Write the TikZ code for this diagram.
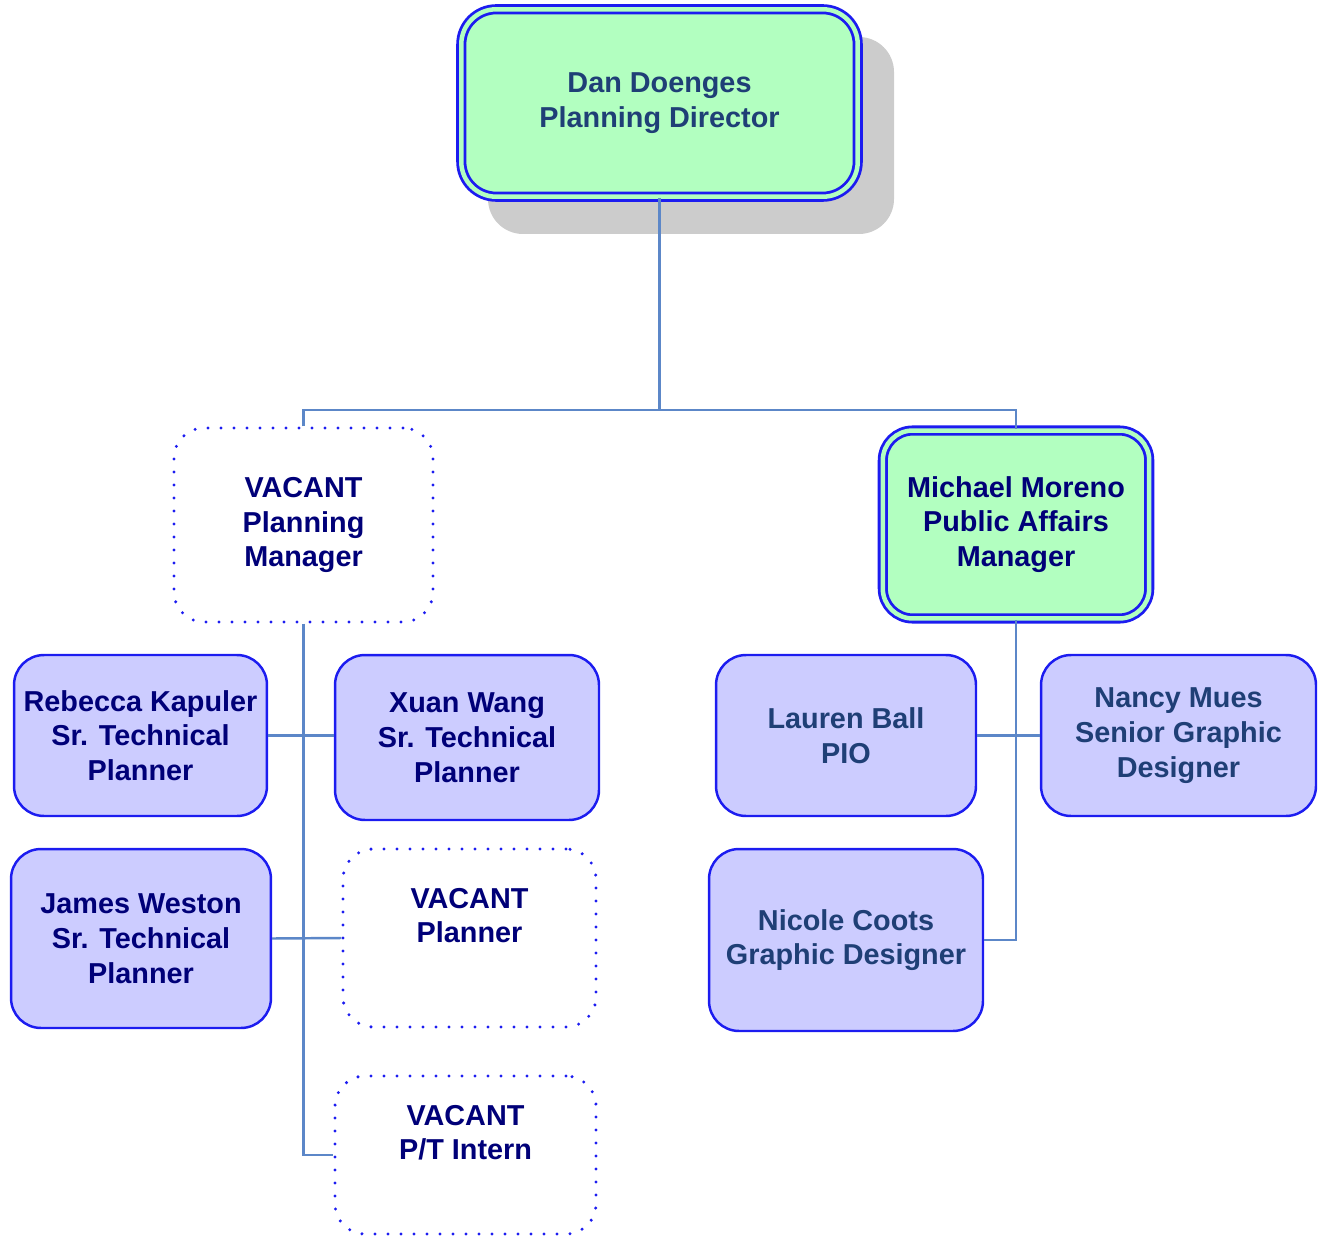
\documentclass[tikz,border=0pt]{standalone}
\usepackage{fontspec}
\setmainfont{Liberation Sans}
\usepackage{tikz}
\definecolor{boxblue}{RGB}{28,28,240}
\definecolor{linkblue}{RGB}{92,135,200}
\definecolor{staffgreen}{RGB}{178,255,192}
\definecolor{stafflav}{RGB}{204,204,255}
\definecolor{navytext}{RGB}{0,0,120}
\definecolor{slatetext}{RGB}{31,63,118}
\tikzset{
  person/.style={draw=boxblue, line width=1.4pt, rounded corners=0.6cm, fill=stafflav,
    align=center, inner sep=0pt, text=navytext,
    font=\bfseries\fontsize{16.4}{19.8}\selectfont},
  lead/.style={person, fill=staffgreen, draw=boxblue, double=staffgreen,
    double distance=0.09cm, line width=1.6pt, rounded corners=0.7cm},
  vacant/.style={person, fill=none, draw=boxblue, line width=1.9pt, line cap=round,
    dash pattern=on 0pt off 7.4pt},
  link/.style={draw=linkblue, line width=1.4pt}
}
\begin{document}
\begin{tikzpicture}[x=0.02cm, y=-0.02cm]
\useasboundingbox (0,0) rectangle (1324,1236);
\fill [black!20, rounded corners=0.7cm] (488,37) rectangle (894,234);
\node [lead, minimum width=7.93cm, minimum height=3.75cm, text=slatetext] (dir) at (659.5,103)
  {Dan Doenges\\Planning Director};
\node [vacant, minimum width=5.18cm, minimum height=3.88cm] (vacmgr) at (303.5,525)
  {VACANT\\Planning\\Manager};
\node [lead, minimum width=5.33cm, minimum height=3.76cm, rounded corners=0.6cm] (moreno) at (1016,524.5)
  {Michael Moreno\\Public Affairs\\Manager};
\node [person, minimum width=5.06cm, minimum height=3.22cm] (kapuler) at (140.5,735.5)
  {Rebecca Kapuler\\Sr. Technical\\Planner};
\node [person, minimum width=5.28cm, minimum height=3.3cm] (wang) at (467,737.5)
  {Xuan Wang\\Sr. Technical\\Planner};
\node [person, minimum width=5.2cm, minimum height=3.58cm] (weston) at (141,938.5)
  {James Weston\\Sr. Technical\\Planner};
\node [vacant, minimum width=5.06cm, minimum height=3.56cm] (vacplanner) at (469.5,938)
  {VACANT\\Planner\\\strut};
\node [vacant, minimum width=5.22cm, minimum height=3.16cm] (vacintern) at (465.5,1155)
  {VACANT\\P/T Intern\\\strut};
\node [person, minimum width=5.2cm, minimum height=3.22cm, text=slatetext] (ball) at (846,735.5)
  {Lauren Ball\\PIO};
\node [person, minimum width=5.5cm, minimum height=3.22cm, text=slatetext] (mues) at (1178.5,735.5)
  {Nancy Mues\\Senior Graphic\\Designer};
\node [person, minimum width=5.48cm, minimum height=3.64cm, text=slatetext] (coots) at (846,940)
  {Nicole Coots\\Graphic Designer};
\coordinate (split) at (659.5,410);
\draw [link] (dir.south) -- (split);
\draw [link] (vacmgr.north) |- (split) -| (moreno.north);
\draw [link] (vacmgr.south) |- (vacintern.west);
\draw [link] (kapuler.east) -- (kapuler.east -| wang.west);
\draw [link] (weston.east) -- (vacplanner.west);
\draw [link] (moreno.south) |- (coots.east);
\draw [link] (ball.east) -- (mues.west);
\end{tikzpicture}
\end{document}
